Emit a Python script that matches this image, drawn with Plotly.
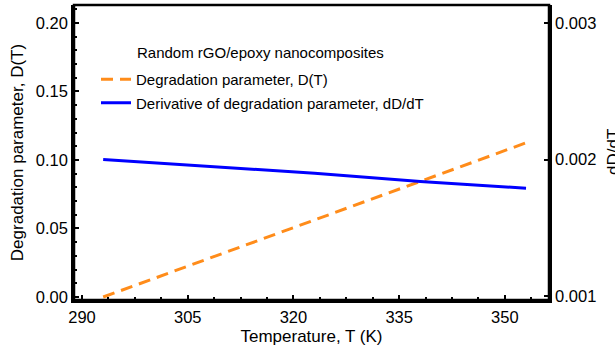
import plotly.graph_objects as go

# Data
temperature = [293, 308, 323, 338, 353]
degradation = [0.0, 0.0281, 0.0562, 0.0844, 0.1125]
derivative = [0.00200, 0.00195, 0.00190, 0.00184, 0.00179]

x_ticks = [290, 305, 320, 335, 350]
y_ticks = [0.00, 0.05, 0.10, 0.15, 0.20]
y2_ticks = [0.001, 0.002, 0.003]

FONT = "Liberation Sans, Arial, Helvetica, sans-serif"
ORANGE = "#FF8C1A"
BLUE = "#0000FF"

fig = go.Figure()
fig.add_trace(go.Scatter(
    x=temperature, y=degradation, mode="lines",
    name="Degradation parameter, D(T)",
    line=dict(color=ORANGE, width=3, dash="12px,7px"),
    legendgroup="a", xaxis="x", yaxis="y"))
fig.add_trace(go.Scatter(
    x=temperature, y=derivative, mode="lines",
    name="Derivative of degradation parameter, dD/dT",
    line=dict(color=BLUE, width=3),
    legendgroup="b", xaxis="x", yaxis="y2"))

W, H = 615, 353
L, R, T, B = 74, 66, 5, 53
pw = W - L - R
ph = H - T - B

def px_x(p):
    return (p - L) / pw

def px_y(p):
    return (H - B - p) / ph

axis_common = dict(
    showline=True, linecolor="black", linewidth=2.5,
    ticks="inside", tickcolor="black", tickwidth=2, ticklen=5,
    showgrid=False, zeroline=False,
    tickfont=dict(family=FONT, size=16.5, color="black"),
)
x_range = [288.86, 356.26]
x_minor = dict(dtick=3.75, tick0=290, ticks="inside", ticklen=3,
               tickwidth=1.5, tickcolor="black")

fig.update_layout(
    width=W, height=H,
    margin=dict(l=L, r=R, t=T, b=B, autoexpand=False),
    paper_bgcolor="white", plot_bgcolor="white",
    font=dict(family=FONT, color="black"),
    xaxis=dict(
        **axis_common,
        range=x_range,
        tickvals=x_ticks,
        minor=x_minor,
        title=dict(text="Temperature, T (K)", font=dict(size=17, family=FONT),
                   standoff=6),
    ),
    xaxis2=dict(
        **axis_common,
        range=x_range,
        tickvals=x_ticks,
        minor=x_minor,
        overlaying="x", side="top", anchor="y",
        showticklabels=False,
    ),
    yaxis=dict(
        **axis_common,
        range=[-0.0022, 0.2131],
        tickvals=y_ticks,
        tickformat=".2f",
        minor=dict(dtick=0.01, tick0=0, ticks="inside", ticklen=3,
                   tickwidth=1.5, tickcolor="black"),
        title=dict(text="Degradation parameter, D(T)",
                   font=dict(size=17, family=FONT), standoff=8),
    ),
    yaxis2=dict(
        **axis_common,
        overlaying="y", side="right", anchor="x",
        range=[0.000972, 0.003132],
        tickvals=y2_ticks,
        tickformat=".3f",
    ),
    showlegend=True,
    legend=dict(
        x=px_x(96), y=px_y(63), xanchor="left", yanchor="top",
        bgcolor="rgba(0,0,0,0)", borderwidth=0,
        font=dict(family=FONT, size=15, color="black"),
        tracegroupgap=1,
    ),
    shapes=[
        dict(type="rect", xref="paper", yref="paper", x0=0, x1=1, y0=0, y1=1,
             line=dict(color="black", width=2.5), layer="above"),
    ],
    annotations=[
        dict(text="Random rGO/epoxy nanocomposites", xref="paper", yref="paper",
             x=px_x(135), y=px_y(52), xanchor="left", yanchor="middle",
             showarrow=False, font=dict(family=FONT, size=15, color="black")),
        dict(text="dD/dT", xref="paper", yref="paper",
             x=1, xshift=613 - (W - R), y=px_y(152), xanchor="center",
             yanchor="middle", textangle=-90, showarrow=False,
             font=dict(family=FONT, size=17, color="black")),
    ],
)

fig.write_html("out.html", config={"displayModeBar": False},
               post_script="document.body.style.margin='0';")
